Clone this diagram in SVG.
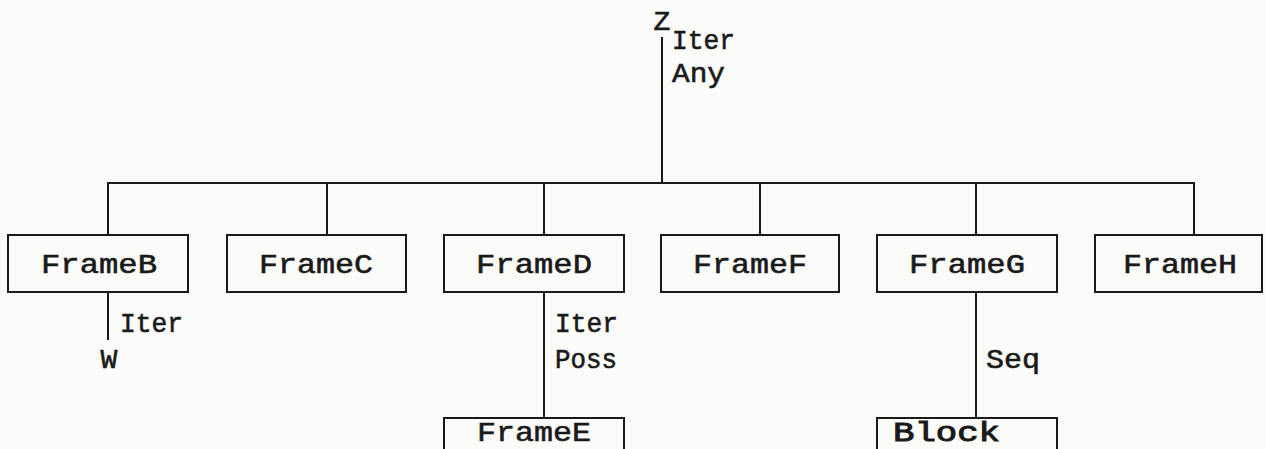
<svg xmlns="http://www.w3.org/2000/svg" width="1266" height="449" viewBox="0 0 1266 449">
<style>
.box{fill:none;stroke:#1a1a1a;stroke-width:2}
.ln{fill:none;stroke:#1a1a1a;stroke-width:2}
.t{font-family:"Liberation Mono","DejaVu Sans Mono",monospace;font-size:28px;fill:#1a1a1a;stroke:#1a1a1a;stroke-width:0.6}
.c{text-anchor:middle}
</style>
<rect width="1266" height="449" fill="#fbfbf9"/>
<g id="connectors">
<line class="ln" x1="662" y1="37" x2="662" y2="183"/>
<line class="ln" x1="107" y1="183" x2="1195" y2="183"/>
<line class="ln" x1="108" y1="183" x2="108" y2="235"/>
<line class="ln" x1="327" y1="183" x2="327" y2="235"/>
<line class="ln" x1="544" y1="183" x2="544" y2="235"/>
<line class="ln" x1="760" y1="183" x2="760" y2="235"/>
<line class="ln" x1="976" y1="183" x2="976" y2="235"/>
<line class="ln" x1="1194" y1="183" x2="1194" y2="235"/>
<line class="ln" x1="108" y1="292" x2="108" y2="340"/>
<line class="ln" x1="544" y1="292" x2="544" y2="418"/>
<line class="ln" x1="976" y1="292" x2="976" y2="418"/>
<text class="t" x="672" y="49" textLength="63" lengthAdjust="spacingAndGlyphs">Iter</text>
<text class="t" x="672" y="82" textLength="53" lengthAdjust="spacingAndGlyphs">Any</text>
<text class="t" x="120" y="332" textLength="63" lengthAdjust="spacingAndGlyphs">Iter</text>
<text class="t" x="555" y="332" textLength="63" lengthAdjust="spacingAndGlyphs">Iter</text>
<text class="t" x="555" y="368" textLength="62" lengthAdjust="spacingAndGlyphs">Poss</text>
<text class="t" x="986" y="368" textLength="54" lengthAdjust="spacingAndGlyphs">Seq</text>
</g>
<g id="Z"><text class="t c" x="662" y="30">Z</text></g>
<g id="W"><text class="t c" x="109" y="368">W</text></g>
<g id="FrameB"><rect class="box" x="8" y="235" width="180" height="57"/><text class="t c" x="99" y="273" textLength="116" lengthAdjust="spacingAndGlyphs">FrameB</text></g>
<g id="FrameC"><rect class="box" x="227" y="235" width="179" height="57"/><text class="t c" x="316" y="273" textLength="114" lengthAdjust="spacingAndGlyphs">FrameC</text></g>
<g id="FrameD"><rect class="box" x="444" y="235" width="180" height="57"/><text class="t c" x="534" y="273" textLength="116" lengthAdjust="spacingAndGlyphs">FrameD</text></g>
<g id="FrameF"><rect class="box" x="661" y="235" width="178" height="57"/><text class="t c" x="750" y="273" textLength="114" lengthAdjust="spacingAndGlyphs">FrameF</text></g>
<g id="FrameG"><rect class="box" x="877" y="235" width="180" height="57"/><text class="t c" x="967" y="273" textLength="116" lengthAdjust="spacingAndGlyphs">FrameG</text></g>
<g id="FrameH"><rect class="box" x="1095" y="235" width="167" height="57"/><text class="t c" x="1180" y="273" textLength="114" lengthAdjust="spacingAndGlyphs">FrameH</text></g>
<g id="FrameE"><rect class="box" x="444" y="418" width="180" height="50"/><text class="t c" x="534" y="441" textLength="114" lengthAdjust="spacingAndGlyphs">FrameE</text></g>
<g id="Block"><rect class="box" x="877" y="418" width="180" height="50"/><text class="t" x="893" y="441" textLength="107" lengthAdjust="spacingAndGlyphs" style="stroke-width:1">Block</text></g>
</svg>
